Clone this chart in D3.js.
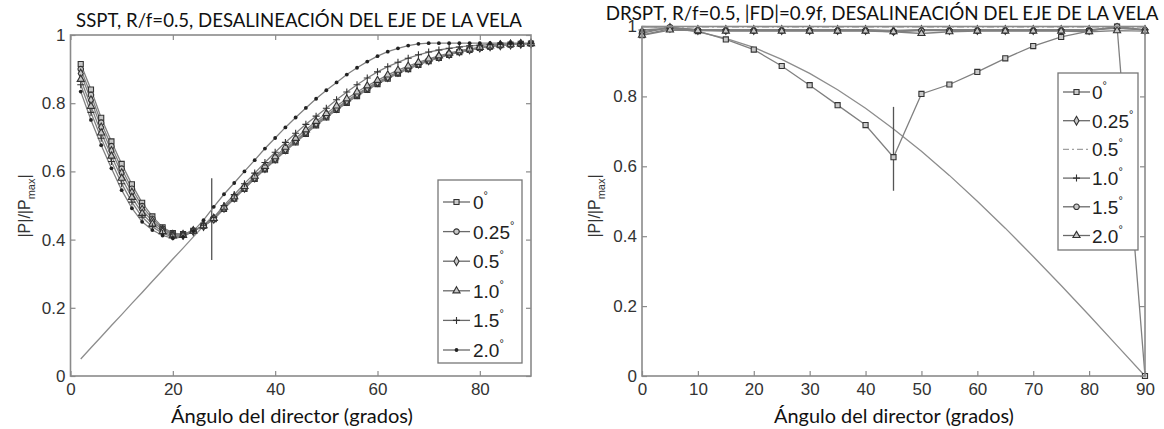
<!DOCTYPE html>
<html>
<head>
<meta charset="utf-8">
<script src="https://cdn.jsdelivr.net/npm/d3@7"></script>
<style>
  body { margin: 0; background: #fff; }
  svg { display: block; }
</style>
</head>
<body>
<svg id="chart" width="1164" height="429"></svg>
<script>
// ---------- SSPT panel data (director angle in degrees, |P|/|Pmax|) ----------
const ssptAngles = [2,4,6,8,10,12,14,16,18,20,22,24,26,28,30,32,34,36,38,40,42,44,46,48,50,52,54,56,58,60,62,64,66,68,70,72,74,76,78,80,82,84,86,88,90];
const sspt_0   = [0.915,0.840,0.757,0.688,0.622,0.562,0.508,0.468,0.436,0.419,0.416,0.426,0.440,0.460,0.490,0.520,0.549,0.578,0.606,0.633,0.660,0.685,0.710,0.735,0.758,0.780,0.801,0.821,0.839,0.856,0.872,0.887,0.900,0.912,0.923,0.933,0.942,0.950,0.956,0.962,0.966,0.970,0.972,0.974,0.975];
const sspt_025 = [0.900,0.824,0.743,0.674,0.608,0.549,0.498,0.461,0.432,0.416,0.415,0.426,0.440,0.460,0.491,0.521,0.550,0.580,0.608,0.635,0.662,0.688,0.713,0.738,0.761,0.783,0.804,0.824,0.842,0.859,0.875,0.889,0.902,0.914,0.925,0.934,0.943,0.951,0.957,0.962,0.966,0.970,0.972,0.974,0.975];
const sspt_05  = [0.887,0.809,0.729,0.660,0.595,0.538,0.488,0.454,0.428,0.414,0.414,0.425,0.440,0.461,0.493,0.523,0.552,0.582,0.610,0.638,0.665,0.691,0.716,0.741,0.764,0.786,0.807,0.827,0.845,0.862,0.877,0.892,0.904,0.916,0.926,0.936,0.944,0.952,0.958,0.963,0.967,0.970,0.972,0.974,0.975];
const sspt_10  = [0.870,0.791,0.713,0.645,0.580,0.524,0.477,0.446,0.423,0.411,0.412,0.425,0.441,0.462,0.495,0.526,0.556,0.586,0.615,0.643,0.671,0.697,0.722,0.747,0.770,0.792,0.813,0.833,0.851,0.867,0.883,0.897,0.909,0.920,0.930,0.939,0.947,0.954,0.959,0.964,0.968,0.971,0.973,0.974,0.975];
const sspt_15  = [0.854,0.773,0.697,0.629,0.564,0.510,0.466,0.438,0.418,0.408,0.410,0.425,0.442,0.465,0.500,0.532,0.564,0.595,0.626,0.656,0.685,0.712,0.738,0.762,0.785,0.810,0.833,0.854,0.874,0.892,0.907,0.920,0.932,0.942,0.950,0.956,0.961,0.965,0.968,0.970,0.972,0.973,0.974,0.975,0.975];
const sspt_20  = [0.834,0.751,0.677,0.609,0.545,0.492,0.452,0.428,0.412,0.404,0.408,0.425,0.457,0.496,0.533,0.566,0.600,0.633,0.667,0.698,0.729,0.758,0.786,0.813,0.838,0.861,0.884,0.904,0.922,0.938,0.951,0.961,0.969,0.974,0.976,0.976,0.976,0.976,0.976,0.976,0.976,0.976,0.976,0.976,0.976];
// reference curve and cursor
const ssptRefAngles = [2,4,6,8,10,12,14,16,18,20,22,24,26,28];
const ssptRef       = [0.050,0.083,0.115,0.148,0.180,0.213,0.245,0.278,0.310,0.343,0.375,0.408,0.440,0.473];
const ssptCursorX = [27.6, 27.6];
const ssptCursorY = [0.34, 0.58];

// ---------- DRSPT panel data ----------
const drsptAngles = [0,5,10,15,20,25,30,35,40,45,50,55,60,65,70,75,80,85,90];
const drspt_0   = [0.975,0.994,0.987,0.963,0.934,0.887,0.832,0.775,0.718,0.626,0.807,0.834,0.870,0.909,0.944,0.970,0.987,1.000,0.000];
const drspt_025 = [0.985,0.996,0.990,0.990,0.990,0.990,0.990,0.990,0.990,0.987,0.990,0.990,0.990,0.990,0.990,0.990,0.990,0.996,0.990];
const drspt_05  = [0.997,0.999,0.998,0.998,0.998,0.998,0.998,0.998,0.998,0.998,0.998,0.998,0.998,0.998,0.998,0.998,0.998,0.999,0.998];
const drspt_10  = [0.990,0.995,0.991,0.991,0.991,0.991,0.991,0.991,0.991,0.989,0.991,0.991,0.991,0.991,0.991,0.991,0.991,0.995,0.991];
const drspt_15  = [0.980,0.998,0.990,0.988,0.988,0.988,0.988,0.988,0.988,0.985,0.988,0.988,0.988,0.988,0.988,0.988,0.988,1.000,0.990];
const drspt_20  = [0.975,0.990,0.988,0.987,0.987,0.987,0.987,0.987,0.987,0.985,0.980,0.985,0.987,0.987,0.987,0.987,0.985,0.988,0.987];
const drsptRef  = [1.000,0.996,0.985,0.966,0.940,0.906,0.866,0.819,0.766,0.707,0.643,0.574,0.500,0.423,0.342,0.259,0.174,0.087,0.000];
const drsptCursorX = [45, 45];
const drsptCursorY = [0.53, 0.77];

// ---------- labels ----------
const legendValues = ["0", "0.25", "0.5", "1.0", "1.5", "2.0"];
const ssptMarkers  = ["square", "circle", "diamond", "triangle", "plus", "dot"];
const drsptMarkers = ["square", "diamond", "none", "plus", "circle", "triangle"];
const ssptXTicks  = [0, 20, 40, 60, 80];
const drsptXTicks = [0, 10, 20, 30, 40, 50, 60, 70, 80, 90];
const yTicks = [0, 0.2, 0.4, 0.6, 0.8, 1];
const titleSSPT  = "SSPT, R/f=0.5, DESALINEACIÓN DEL EJE DE LA VELA";
const titleDRSPT = "DRSPT, R/f=0.5,  |FD|=0.9f, DESALINEACIÓN DEL EJE DE LA VELA";
const xTitle = "Ángulo del director (grados)";

const svg = d3.select("#chart");
svg.append("rect").attr("width", 1164).attr("height", 429).attr("fill", "#fff");

const TICK_FONT = "'Liberation Sans', Arial, sans-serif";
const TEXT_FONT = "Lato, 'Open Sans', sans-serif";
const LINE_COL = "#808080";
const MARK_COL = "#333";

function drawMarker(g, type, cx, cy) {
  if (type === "none") return;
  if (type === "plus") {
    g.append("path").attr("d", `M${cx - 3.5},${cy}H${cx + 3.5}M${cx},${cy - 3.5}V${cy + 3.5}`)
      .attr("stroke", MARK_COL).attr("stroke-width", 1.1).attr("fill", "none");
    return;
  }
  if (type === "dot") {
    g.append("circle").attr("cx", cx).attr("cy", cy).attr("r", 1.9).attr("fill", "#222");
    return;
  }
  const sym = { square: d3.symbolSquare, circle: d3.symbolCircle, diamond: d3.symbolDiamond, triangle: d3.symbolTriangle }[type];
  const size = { square: 26, circle: 24, diamond: 22, triangle: 22 }[type];
  g.append("path").attr("d", d3.symbol(sym, size)())
    .attr("transform", `translate(${cx},${cy})`)
    .attr("fill", "#c8c8c8").attr("stroke", MARK_COL).attr("stroke-width", 1.1);
}

function fitText(sel, width) {
  const fs = parseFloat(sel.attr("font-size"));
  const w = sel.node().getComputedTextLength();
  sel.attr("font-size", (fs * width / w).toFixed(2));
}

function drawPanel(cfg) {
  const g = svg.append("g");
  const x = d3.scaleLinear().domain([0, 90]).range([cfg.x0, cfg.x1]);
  const y = d3.scaleLinear().domain([0, 1]).range([cfg.y0, cfg.y1]);

  const styleAxis = (a) => {
    a.select(".domain").remove();
    a.selectAll(".tick line").attr("stroke", "#8a8a8a").attr("stroke-width", 1.2);
    a.selectAll(".tick text").attr("font-family", TICK_FONT).attr("font-size", 17).attr("fill", "#333");
  };
  const fmtY = (d) => (d === 0 ? "0" : d === 1 ? "1" : d3.format(".1f")(d));

  g.append("g").attr("transform", `translate(0,${cfg.y0})`)
    .call(d3.axisBottom(x).tickValues(cfg.xTicks).tickSize(-5).tickPadding(7).tickFormat(d3.format("d")))
    .call(styleAxis);
  g.append("g").attr("transform", `translate(0,${cfg.y1})`)
    .call(d3.axisTop(x).tickValues(cfg.xTicks).tickSize(-5).tickFormat(""))
    .call(styleAxis);
  g.append("g").attr("transform", `translate(${cfg.x0},0)`)
    .call(d3.axisLeft(y).tickValues(yTicks).tickSize(-5).tickPadding(5).tickFormat(fmtY))
    .call(styleAxis);
  g.append("g").attr("transform", `translate(${cfg.x1},0)`)
    .call(d3.axisRight(y).tickValues(yTicks).tickSize(-5).tickFormat(""))
    .call(styleAxis);

  // reference curve
  const line = d3.line().x((d) => x(d[0])).y((d) => y(d[1]));
  g.append("path").datum(d3.zip(cfg.refX, cfg.refY)).attr("d", line)
    .attr("fill", "none").attr("stroke", "#8d8d8d").attr("stroke-width", 1.3);
  // cursor
  g.append("path").datum(d3.zip(cfg.curX, cfg.curY)).attr("d", line)
    .attr("fill", "none").attr("stroke", "#555").attr("stroke-width", 1.3);

  // series
  cfg.series.forEach((s, i) => {
    const pts = d3.zip(cfg.angles, s);
    const dash = cfg.markers[i] === "none";
    g.append("path").datum(pts).attr("d", line)
      .attr("fill", "none")
      .attr("stroke", dash ? "#b0b0b0" : LINE_COL)
      .attr("stroke-width", 1.3)
      .attr("stroke-dasharray", dash ? "7,3,2,3" : null);
  });
  cfg.series.forEach((s, i) => {
    const mg = g.append("g");
    s.forEach((v, j) => drawMarker(mg, cfg.markers[i], x(cfg.angles[j]), y(v)));
  });

  // plot frame
  g.append("rect").attr("x", cfg.x0).attr("y", cfg.y1)
    .attr("width", cfg.x1 - cfg.x0).attr("height", cfg.y0 - cfg.y1)
    .attr("fill", "none").attr("stroke", "#8a8a8a").attr("stroke-width", 1.6);

  // legend
  const L = cfg.legend;
  const lg = g.append("g");
  lg.append("rect").attr("x", L.x).attr("y", L.y).attr("width", L.w).attr("height", L.h)
    .attr("fill", "#fff").attr("stroke", "#777").attr("stroke-width", 1.3);
  legendValues.forEach((lab, i) => {
    const cy = L.row0 + i * L.dy;
    const dash = cfg.markers[i] === "none";
    lg.append("line").attr("x1", L.lx0).attr("x2", L.lx1).attr("y1", cy).attr("y2", cy)
      .attr("stroke", dash ? "#a0a0a0" : "#6a6a6a").attr("stroke-width", 1.3)
      .attr("stroke-dasharray", dash ? "6,3,2,3" : null);
    drawMarker(lg, cfg.markers[i], (L.lx0 + L.lx1) / 2, cy);
    const t = lg.append("text").attr("x", L.tx).attr("y", cy + 7)
      .attr("font-family", TICK_FONT).attr("font-size", 19).attr("fill", "#222");
    t.append("tspan").text(lab);
    t.append("tspan").attr("font-size", 11).attr("dy", -10).text("°");
  });

  // titles
  const tt = svg.append("text").attr("x", cfg.titleX).attr("y", cfg.titleY).attr("text-anchor", "middle")
    .attr("font-family", TEXT_FONT).attr("font-size", 20).attr("fill", "#111").text(cfg.title);
  fitText(tt, cfg.titleW);
  const xt = svg.append("text").attr("x", cfg.xLabX).attr("y", 423).attr("text-anchor", "middle")
    .attr("font-family", TEXT_FONT).attr("font-size", 18).attr("fill", "#111").text(xTitle);
  fitText(xt, cfg.xLabW);
  const yt = svg.append("text").attr("transform", `translate(${cfg.yLabX},${cfg.yLabY}) rotate(-90)`)
    .attr("text-anchor", "middle").attr("font-family", TICK_FONT).attr("font-size", 16).attr("fill", "#333");
  yt.append("tspan").text("|P|/|P");
  yt.append("tspan").attr("font-size", 11).attr("dy", 5).text("max");
  yt.append("tspan").attr("dy", -5).text("|");
}

drawPanel({
  x0: 70.5, x1: 531, y0: 376, y1: 35,
  xTicks: ssptXTicks,
  angles: ssptAngles,
  series: [sspt_0, sspt_025, sspt_05, sspt_10, sspt_15, sspt_20],
  markers: ssptMarkers,
  refX: ssptRefAngles, refY: ssptRef,
  curX: ssptCursorX, curY: ssptCursorY,
  legend: { x: 438, y: 180, w: 84, h: 183, row0: 202, dy: 29.6, lx0: 443, lx1: 470, tx: 473 },
  title: titleSSPT, titleX: 299, titleY: 27, titleW: 446,
  xLabX: 292, xLabW: 242,
  yLabX: 30, yLabY: 206
});

drawPanel({
  x0: 642, x1: 1145, y0: 376, y1: 26.5,
  xTicks: drsptXTicks,
  angles: drsptAngles,
  series: [drspt_0, drspt_025, drspt_05, drspt_10, drspt_15, drspt_20],
  markers: drsptMarkers,
  refX: drsptAngles, refY: drsptRef,
  curX: drsptCursorX, curY: drsptCursorY,
  legend: { x: 1058, y: 73, w: 80, h: 177, row0: 92, dy: 28.7, lx0: 1063, lx1: 1090, tx: 1092 },
  title: titleDRSPT, titleX: 882, titleY: 20, titleW: 553,
  xLabX: 894, xLabW: 240,
  yLabX: 600, yLabY: 206
});
</script>
</body>
</html>
